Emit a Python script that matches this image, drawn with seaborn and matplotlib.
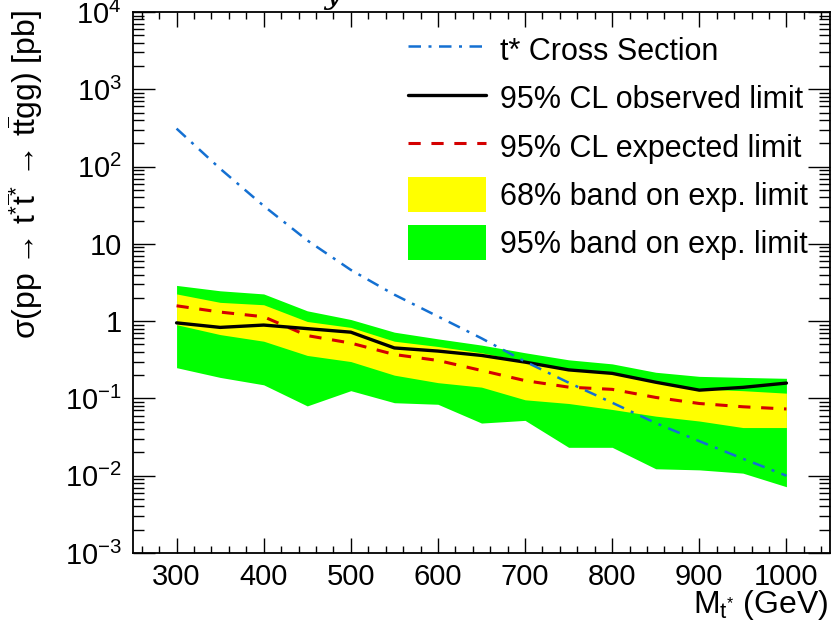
import numpy as np
import pandas as pd
import matplotlib
matplotlib.use("Agg")
import matplotlib.pyplot as plt
from matplotlib.ticker import FixedLocator, FixedFormatter, MultipleLocator, LogLocator, NullFormatter
from matplotlib.patches import Patch
from matplotlib.lines import Line2D
import seaborn as sns

# t* mass points (GeV)
mass = [300, 350, 400, 450, 500, 550, 600, 650, 700, 750, 800, 850, 900, 950, 1000]

# theory cross section (pb)
xsec = [310, 94, 31, 11.1, 4.6, 2.2, 1.15, 0.6, 0.30, 0.16, 0.088, 0.048, 0.028, 0.0166, 0.0100]

# 95% CL limits (pb)
observed = [0.95, 0.83, 0.89, 0.80, 0.72, 0.45, 0.41, 0.36, 0.295, 0.234, 0.211, 0.162, 0.128, 0.139, 0.158]
expected = [1.58, 1.31, 1.14, 0.65, 0.52, 0.37, 0.31, 0.23, 0.17, 0.140, 0.131, 0.103, 0.086, 0.078, 0.073]

# 68% band
band68_lo = [0.90, 0.67, 0.55, 0.36, 0.30, 0.20, 0.16, 0.14, 0.096, 0.086, 0.072, 0.059, 0.051, 0.042, 0.042]
band68_hi = [2.25, 1.75, 1.63, 0.99, 0.83, 0.55, 0.47, 0.39, 0.30, 0.232, 0.209, 0.160, 0.133, 0.126, 0.117]

# 95% band
band95_lo = [0.25, 0.187, 0.15, 0.08, 0.126, 0.088, 0.084, 0.048, 0.052, 0.0233, 0.0233, 0.0123, 0.0119, 0.0108, 0.0072]
band95_hi = [2.9, 2.47, 2.25, 1.36, 1.05, 0.72, 0.59, 0.49, 0.39, 0.316, 0.28, 0.218, 0.193, 0.187, 0.182]

ytick_vals = [1e-3, 1e-2, 1e-1, 1, 10, 1e2, 1e3, 1e4]
ytick_labels = [r"10$^{\mathregular{-3}}$", r"10$^{\mathregular{-2}}$", r"10$^{\mathregular{-1}}$",
                "1", "10", r"10$^{\mathregular{2}}$", r"10$^{\mathregular{3}}$", r"10$^{\mathregular{4}}$"]
xtick_vals = [300, 400, 500, 600, 700, 800, 900, 1000]

legend_labels = ["t* Cross Section", "95% CL observed limit", "95% CL expected limit",
                 "68% band on exp. limit", "95% band on exp. limit"]

df = pd.DataFrame({"mass": mass, "xsec": xsec, "observed": observed, "expected": expected})

sns.set_theme(style="ticks")
plt.rcParams["font.family"] = ["Liberation Sans", "DejaVu Sans"]
plt.rcParams["mathtext.fontset"] = "custom"
plt.rcParams["mathtext.rm"] = "Liberation Sans"
plt.rcParams["mathtext.it"] = "Liberation Sans:italic"
plt.rcParams["mathtext.bf"] = "Liberation Sans:bold"
plt.rcParams["mathtext.sf"] = "Liberation Sans"
plt.rcParams["text.color"] = "black"
plt.rcParams["axes.labelcolor"] = "black"
plt.rcParams["xtick.color"] = "black"
plt.rcParams["ytick.color"] = "black"

FS = 21
LFS = 22
GREEN = "#00ff00"
YELLOW = "#ffff00"
RED = "#d40000"
BLUE = "#1470d2"

fig = plt.figure(figsize=(8.4, 6.29), dpi=100)
ax = fig.add_axes([133 / 840, 1 - 553 / 629, (830 - 133) / 840, (553 - 12) / 629])

ax.fill_between(mass, band95_lo, band95_hi, color=GREEN, linewidth=0, zorder=1)
ax.fill_between(mass, band68_lo, band68_hi, color=YELLOW, linewidth=0, zorder=2)

sns.lineplot(data=df, x="mass", y="expected", ax=ax, color=RED, linewidth=2.2, zorder=3)
ax.lines[-1].set_dashes((4, 3.5))
sns.lineplot(data=df, x="mass", y="observed", ax=ax, color="black", linewidth=2.4, zorder=4)
sns.lineplot(data=df, x="mass", y="xsec", ax=ax, color=BLUE, linewidth=1.8, zorder=5)
ax.lines[-1].set_dashes((5, 3, 1.2, 3))

ax.set_yscale("log")
ax.set_xlim(250, 1050)
ax.set_ylim(1e-3, 1e4)

ax.yaxis.set_major_locator(FixedLocator(ytick_vals))
ax.yaxis.set_major_formatter(FixedFormatter(ytick_labels))
ax.yaxis.set_minor_locator(LogLocator(base=10, subs=np.arange(2, 10), numticks=20))
ax.yaxis.set_minor_formatter(NullFormatter())
ax.xaxis.set_major_locator(FixedLocator(xtick_vals))
ax.xaxis.set_minor_locator(MultipleLocator(20))

for s in ax.spines.values():
    s.set_linewidth(1.3)
    s.set_color("black")

ax.tick_params(axis="both", which="both", direction="in", top=True, right=True,
               color="black", width=1.0, labelsize=FS, labelcolor="black")
ax.tick_params(axis="x", which="major", length=11, pad=7)
ax.tick_params(axis="x", which="minor", length=5.3)
ax.tick_params(axis="y", which="major", length=15.5, pad=8)
ax.tick_params(axis="y", which="minor", length=7.8)

ax.set_xlabel(r"M$_{\mathregular{t^{*}}}$ (GeV)", fontsize=23, loc="right")
ax.xaxis.set_label_coords(1 - 2 / 697, -(613 - 553) / 541)
ax.xaxis.label.set_verticalalignment("baseline")

ax.set_ylabel(r"σ(pp → t$^{*}\overline{\mathregular{t}}^{*}$ → t$\overline{\mathregular{t}}$gg) [pb]",
              fontsize=23, loc="top")
ax.yaxis.set_label_coords(-(133 - 45) / 697, 1 + 2 / 541)

handles = [
    Line2D([], [], color=BLUE, linewidth=1.8, dashes=(5, 3, 1.2, 3)),
    Line2D([], [], color="black", linewidth=2.4),
    Line2D([], [], color=RED, linewidth=2.2, dashes=(4, 3.5)),
    Patch(facecolor=YELLOW, edgecolor="none"),
    Patch(facecolor=GREEN, edgecolor="none"),
]
leg = ax.legend(handles, legend_labels, loc="upper left",
                bbox_to_anchor=(408 / 840, 1 - 32.5 / 629), bbox_transform=fig.transFigure,
                frameon=False, fontsize=LFS, handlelength=2.55, handleheight=1.375,
                handletextpad=0.46, labelspacing=0.44, borderpad=0, borderaxespad=0)

# title line sitting above the frame
fig.text(0.396, 1 - 3 / 629, "y", fontsize=22, family="DejaVu Serif", style="italic",
         ha="center", va="baseline")

fig.savefig("out.png", dpi=100)
